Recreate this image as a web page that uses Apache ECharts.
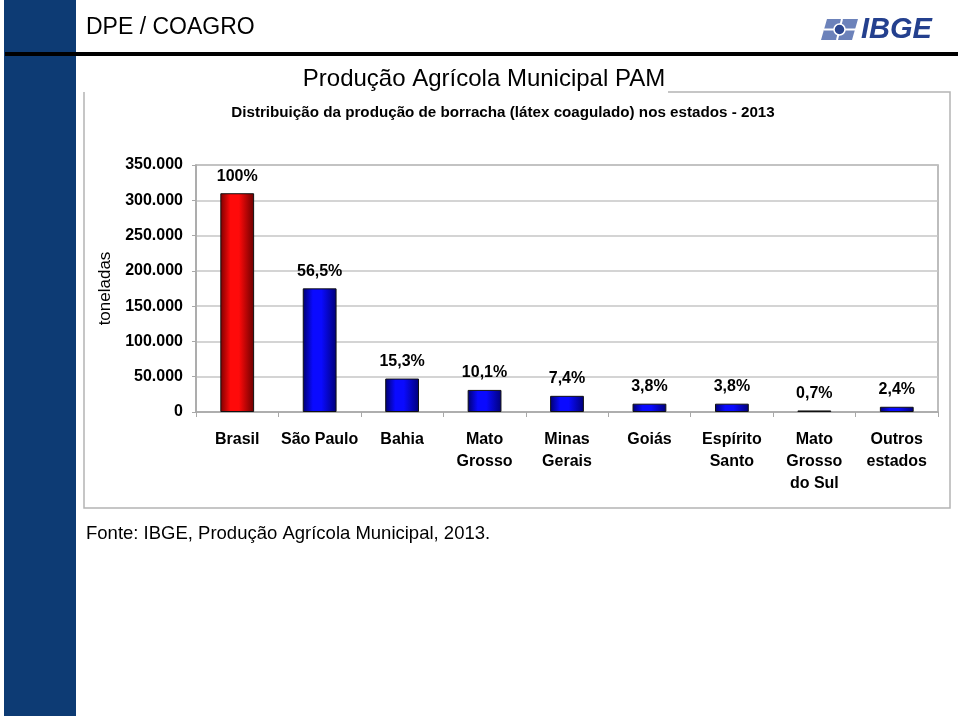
<!DOCTYPE html>
<html>
<head>
<meta charset="utf-8">
<script src="https://cdn.jsdelivr.net/npm/echarts@6/dist/echarts.min.js"></script>
<style>
html,body{margin:0;padding:0;background:#fff;}
#c{width:959px;height:718px;}
</style>
</head>
<body>
<div id="c"></div>
<script>
const categories = ['Brasil', 'São Paulo', 'Bahia', 'Mato\nGrosso', 'Minas\nGerais', 'Goiás', 'Espírito\nSanto', 'Mato\nGrosso\ndo Sul', 'Outros\nestados'];
const values = [310000, 175200, 47400, 31300, 22900, 11800, 11800, 2200, 7400];
const pctLabels = ['100%', '56,5%', '15,3%', '10,1%', '7,4%', '3,8%', '3,8%', '0,7%', '2,4%'];
const yTicks = [0, 50000, 100000, 150000, 200000, 250000, 300000, 350000];

const FONT = '"Liberation Sans", Arial, sans-serif';

function grad(dark1, mid, dark2) {
  return new echarts.graphic.LinearGradient(0, 0, 1, 0, [
    {offset: 0, color: dark1},
    {offset: 0.3, color: mid},
    {offset: 0.55, color: mid},
    {offset: 1, color: dark2}
  ]);
}
const redGrad = grad('#7a0000', '#ff0a0a', '#6a0000');
const blueGrad = grad('#00006e', '#0a0aff', '#000078');

const chart = echarts.init(document.getElementById('c'), null, {renderer: 'canvas'});

const option = {
  backgroundColor: '#ffffff',
  animation: false,
  textStyle: {fontFamily: FONT},
  grid: {
    left: 196, right: 21, top: 165, bottom: 306,
    show: true, borderColor: '#a8a8a8', borderWidth: 1.5, backgroundColor: 'transparent'
  },
  xAxis: {
    type: 'category',
    data: categories,
    axisLine: {lineStyle: {color: '#a8a8a8', width: 1.5}},
    axisTick: {show: true, length: 5, lineStyle: {color: '#a8a8a8'}},
    axisLabel: {
      color: '#000', fontFamily: FONT, fontWeight: 'bold', fontSize: 16,
      lineHeight: 22, margin: 17, interval: 0
    }
  },
  yAxis: {
    type: 'value',
    min: 0, max: 350000, interval: 50000,
    name: 'toneladas',
    nameLocation: 'middle',
    nameRotate: 90,
    nameGap: 77,
    nameTextStyle: {color: '#000', fontFamily: FONT, fontSize: 17},
    axisLine: {show: true, lineStyle: {color: '#a8a8a8', width: 1.5}},
    axisTick: {show: true, length: 4, lineStyle: {color: '#a8a8a8'}},
    splitLine: {lineStyle: {color: '#c6c6c6', width: 1.5}},
    axisLabel: {
      color: '#000', fontFamily: FONT, fontWeight: 'bold', fontSize: 16, margin: 13,
      formatter: v => yTicks.indexOf(v) >= 0 ? (v === 0 ? '0' : v.toLocaleString('de-DE')) : ''
    }
  },
  series: [{
    type: 'bar',
    barWidth: '41%',
    data: values.map((v, i) => ({
      value: v,
      itemStyle: {color: i === 0 ? redGrad : blueGrad, borderColor: '#111', borderWidth: 1}
    })),
    label: {
      show: true, position: 'top', distance: 9,
      color: '#000', fontFamily: FONT, fontWeight: 'bold', fontSize: 16,
      formatter: p => pctLabels[p.dataIndex]
    }
  }],
  graphic: [
    {type: 'rect', shape: {x: 4, y: 0, width: 72, height: 716}, style: {fill: '#0d3b74'}, z: 1},
    {type: 'rect', shape: {x: 5, y: 52, width: 953, height: 4}, style: {fill: '#000'}, z: 2},
    {type: 'text', z: 3, style: {text: 'DPE / COAGRO', fill: '#000', font: '23px ' + FONT, textAlign: 'left', textVerticalAlign: 'middle', x: 86, y: 28}},
    {type: 'polygon', shape: {points: [[827, 19], [858, 19], [852, 40], [821, 40]]}, style: {fill: '#6c82ba'}, z: 3},
    {type: 'line', shape: {x1: 824, y1: 29.5, x2: 856, y2: 29.5}, style: {stroke: '#fff', lineWidth: 2}, z: 4},
    {type: 'line', shape: {x1: 842, y1: 19, x2: 837, y2: 40}, style: {stroke: '#fff', lineWidth: 2}, z: 4},
    {type: 'circle', shape: {cx: 839.5, cy: 29.5, r: 5.5}, style: {fill: '#2b468f', stroke: '#fff', lineWidth: 1.5}, z: 5},
    {type: 'text', z: 3, style: {text: 'IBGE', fill: '#24408e', font: 'italic bold 29px ' + FONT, textAlign: 'left', textVerticalAlign: 'middle', x: 861, y: 30}},
    {type: 'polyline', shape: {points: [[668, 92], [950, 92], [950, 508], [84, 508], [84, 92]]}, style: {stroke: '#b4b4b4', lineWidth: 1.5, fill: null}, z: 1},
    {type: 'text', z: 3, style: {text: 'Produção Agrícola Municipal PAM', fill: '#000', font: '24px ' + FONT, textAlign: 'center', textVerticalAlign: 'middle', x: 484, y: 79}},
    {type: 'text', z: 3, style: {text: 'Distribuição da produção de borracha (látex coagulado) nos estados - 2013', fill: '#000', font: 'bold 15.2px ' + FONT, textAlign: 'center', textVerticalAlign: 'middle', x: 503, y: 113}},
    {type: 'text', z: 3, style: {text: 'Fonte: IBGE, Produção Agrícola Municipal, 2013.', fill: '#000', font: '18.5px ' + FONT, textAlign: 'left', textVerticalAlign: 'middle', x: 86, y: 534}}
  ]
};
chart.setOption(option);
</script>
</body>
</html>
